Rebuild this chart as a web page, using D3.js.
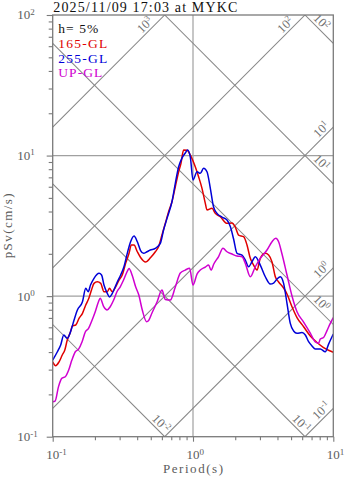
<!DOCTYPE html>
<html><head><meta charset="utf-8">
<script src="https://cdn.jsdelivr.net/npm/d3@7"></script>
<style>body{margin:0;background:#fff}svg{display:block}</style>
</head><body><svg id="c" width="347" height="478"></svg>
<script>
// ---------------- data ----------------
const titleText = "2025/11/09 17:03 at MYKC";
const dampingText = "h= 5%";
const seriesNames = ["165-GL", "255-GL", "UP-GL"];
const seriesColors = ["#e00000", "#0000d8", "#d000d0"];
const xTicks = [0.1, 1, 10];
const yTicks = [0.1, 1, 10, 100];
const accelLevels = [1000, 100, 10, 1, 0.1];   // constant pSa lines (cm/s^2)
const dispLevels = [100, 10, 1, 0.1, 0.01];    // constant Sd lines (cm)

// [period (s), pSv (cm/s)]
const s165 = [[0.1,0.341],[0.105,0.320],[0.111,0.341],[0.117,0.381],[0.122,0.414],[0.127,0.487],[0.134,0.558],[0.138,0.613],[0.146,0.623],[0.154,0.695],[0.163,0.755],[0.172,0.864],[0.181,0.965],[0.189,1.105],[0.197,1.233],[0.208,1.266],[0.220,1.233],[0.232,1.075],[0.245,1.075],[0.254,1.136],[0.266,1.075],[0.281,1.166],[0.297,1.302],[0.313,1.413],[0.331,1.711],[0.350,2.016],[0.363,2.310],[0.380,2.310],[0.401,2.069],[0.423,1.882],[0.459,1.748],[0.499,1.882],[0.539,2.069],[0.568,2.246],[0.601,2.720],[0.635,3.296],[0.670,3.985],[0.708,4.694],[0.748,6.001],[0.790,7.673],[0.821,8.806],[0.857,10.95],[0.906,10.90],[0.957,10.09],[1.038,8.328],[1.096,7.070],[1.159,5.847],[1.224,4.573],[1.258,4.099],[1.366,4.214],[1.442,3.882],[1.565,3.672],[1.747,3.296],[1.897,3.312],[2.002,3.101],[2.114,2.720],[2.295,2.646],[2.426,2.310],[2.561,1.857],[2.704,1.664],[2.859,1.533],[3.017,1.857],[3.276,2.016],[3.459,1.960],[3.657,1.748],[3.860,1.374],[4.076,1.260],[4.424,1.142],[4.677,1.035],[5.077,0.841],[5.511,0.704],[6.143,0.606],[6.856,0.520],[7.651,0.468],[8.527,0.431],[10,0.399]];
const s255 = [[0.1,0.351],[0.108,0.402],[0.114,0.449],[0.120,0.529],[0.127,0.501],[0.134,0.558],[0.142,0.676],[0.150,0.796],[0.163,0.912],[0.172,1.136],[0.179,1.075],[0.186,1.199],[0.197,1.339],[0.214,1.453],[0.223,1.413],[0.232,1.199],[0.245,1.047],[0.254,0.987],[0.266,1.047],[0.289,1.266],[0.305,1.413],[0.322,1.618],[0.340,2.016],[0.359,2.438],[0.380,2.677],[0.401,2.438],[0.423,2.110],[0.444,2.016],[0.470,2.069],[0.496,2.128],[0.539,2.188],[0.585,2.375],[0.617,2.953],[0.653,3.576],[0.708,4.694],[0.748,6.345],[0.790,8.328],[0.835,9.601],[0.881,10.42],[0.915,10.95],[0.957,9.762],[1.0,6.698],[1.068,7.673],[1.127,7.475],[1.190,8.112],[1.258,7.673],[1.328,5.876],[1.402,4.305],[1.483,3.882],[1.609,3.654],[1.747,3.478],[1.845,3.127],[1.947,2.548],[2.059,2.016],[2.235,1.960],[2.360,1.806],[2.490,1.618],[2.634,1.757],[2.780,1.907],[3.017,1.664],[3.276,1.374],[3.556,1.219],[3.755,1.239],[3.970,1.323],[4.190,1.374],[4.424,1.233],[4.677,0.889],[4.937,0.640],[5.213,0.565],[5.511,0.544],[5.983,0.551],[6.316,0.529],[6.667,0.474],[7.050,0.442],[7.442,0.420],[8.077,0.420],[8.768,0.402],[9.259,0.456],[10,0.538]];
const sUP = [[0.1,0.177],[0.104,0.179],[0.110,0.227],[0.116,0.260],[0.123,0.267],[0.130,0.298],[0.137,0.351],[0.145,0.402],[0.153,0.420],[0.162,0.474],[0.171,0.558],[0.180,0.590],[0.191,0.676],[0.201,0.774],[0.212,0.912],[0.218,0.965],[0.231,0.841],[0.244,0.796],[0.257,0.841],[0.272,0.938],[0.287,1.075],[0.303,1.166],[0.320,1.302],[0.342,1.521],[0.350,1.572],[0.369,1.401],[0.390,1.166],[0.411,1.018],[0.435,0.796],[0.467,0.658],[0.483,0.671],[0.510,0.758],[0.554,0.908],[0.601,1.105],[0.635,0.946],[0.689,0.938],[0.748,1.161],[0.812,1.460],[0.881,1.533],[0.946,1.577],[1.0,1.199],[1.068,1.436],[1.127,1.533],[1.224,1.611],[1.292,1.664],[1.344,1.533],[1.407,1.692],[1.522,1.913],[1.636,2.188],[1.747,2.069],[1.897,1.993],[2.059,1.929],[2.235,1.907],[2.360,1.711],[2.561,1.374],[2.780,1.618],[3.017,1.857],[3.368,2.128],[3.657,2.438],[3.892,2.577],[4.076,2.438],[4.309,1.993],[4.677,1.413],[5.077,1.002],[5.511,0.774],[6.143,0.654],[6.856,0.546],[7.442,0.472],[7.855,0.462],[8.077,0.495],[8.527,0.508],[9.018,0.569],[9.520,0.640],[10,0.704]];
const seriesData = [s165, s255, sUP];

// ---------------- drawing ----------------
const svg = d3.select("#c");
const L = 52.7, R = 333.3, T = 15, B = 436.7;
const x = d3.scaleLog().domain([0.1, 10]).range([L, R]);
const y = d3.scaleLog().domain([0.1, 100]).range([B, T]);
const FONT = "'Liberation Serif','Times New Roman',serif";
const GRAY = "#5c5c5c";

svg.append("defs").append("clipPath").attr("id","clip")
  .append("rect").attr("x",L).attr("y",T).attr("width",R-L).attr("height",B-T);

// grid lines
const grid = svg.append("g").attr("stroke","#a0a0a0").attr("stroke-width",1.2);
grid.append("line").attr("x1",x(1)).attr("x2",x(1)).attr("y1",T).attr("y2",B);
[1,10].forEach(v => grid.append("line").attr("x1",L).attr("x2",R).attr("y1",y(v)).attr("y2",y(v)));

// tripartite diagonal lines
const twoPi = 2*Math.PI;
const diag = svg.append("g").attr("clip-path","url(#clip)");
const diagLabels = svg.append("g").attr("fill","#707070").style("font-family",FONT);
const s2 = Math.SQRT1_2;
function expOf(v){ return String(Math.round(Math.log10(v))); }
function addPow(sel, exp, mainSize, supSize){
  sel.append("tspan").text("10").style("font-size",mainSize+"px");
  sel.append("tspan").text(exp).style("font-size",supSize+"px").attr("dy",-4.5);
}
function drawDiag(t0, t1, f, ascending, level){
  const p0 = [x(t0), y(f(t0))], p1 = [x(t1), y(f(t1))];
  diag.append("line").attr("x1",p0[0]).attr("y1",p0[1]).attr("x2",p1[0]).attr("y2",p1[1])
      .attr("stroke","#858585").attr("stroke-width",1.05);
  const dir = ascending ? [s2,-s2] : [s2,s2];
  const nrm = ascending ? [-s2,-s2] : [s2,-s2];
  const onRight = Math.abs(p1[0]-R) < 0.5;
  let along;
  if (ascending) along = onRight ? 10 : 21; else along = onRight ? 23.5 : 12;
  const cx = p1[0] - along*dir[0] + 6.8*nrm[0];
  const cy = p1[1] - along*dir[1] + 6.8*nrm[1];
  const t = diagLabels.append("text")
     .attr("transform",`translate(${cx},${cy}) rotate(${ascending?-45:45})`)
     .attr("text-anchor","middle").attr("y",4);
  addPow(t, expOf(level), 12.5, 8.5);
}
accelLevels.forEach(a => {
  const f = t => a*t/twoPi;
  const t0 = Math.max(0.1, 0.1*twoPi/a), t1 = Math.min(10, 100*twoPi/a);
  if (t0 < t1) drawDiag(t0, t1, f, true, a);
});
dispLevels.forEach(d => {
  const f = t => twoPi*d/t;
  const t0 = Math.max(0.1, twoPi*d/100), t1 = Math.min(10, twoPi*d/0.1);
  if (t0 < t1) drawDiag(t0, t1, f, false, d);
});

// series curves
const line = d3.line().x(d => x(d[0])).y(d => y(d[1])).curve(d3.curveMonotoneX);
const curves = svg.append("g").attr("clip-path","url(#clip)");
seriesData.forEach((s,i) => {
  curves.append("path").datum(s).attr("d",line).attr("fill","none")
    .attr("stroke",seriesColors[i]).attr("stroke-width",1.5).attr("stroke-linejoin","round");
});

// frame
svg.append("rect").attr("x",L).attr("y",T).attr("width",R-L).attr("height",B-T)
  .attr("fill","none").attr("stroke","#7a7a7a").attr("stroke-width",1.3);

// axes ticks
function minorTicks(dom){
  const out=[]; for (let d=dom[0]; d<dom[1]*0.999; d*=10) for (let k=2;k<=9;k++) out.push(d*k);
  return out;
}
function styleAxis(g){ g.select(".domain").remove(); g.selectAll("line").attr("stroke","#7a7a7a").attr("stroke-width",1.1); g.selectAll("text").remove(); }
svg.append("g").attr("transform",`translate(${L},0)`).call(d3.axisLeft(y).tickValues(yTicks).tickSize(6)).call(styleAxis);
svg.append("g").attr("transform",`translate(${L},0)`).call(d3.axisLeft(y).tickValues(minorTicks([0.1,100])).tickSize(4)).call(styleAxis);
svg.append("g").attr("transform",`translate(0,${B})`).call(d3.axisBottom(x).tickValues(xTicks).tickSize(5)).call(styleAxis);
svg.append("g").attr("transform",`translate(0,${B})`).call(d3.axisBottom(x).tickValues(minorTicks([0.1,10])).tickSize(3.5)).call(styleAxis);

// tick labels
const tl = svg.append("g").attr("fill",GRAY).style("font-family",FONT);
yTicks.forEach(v => {
  const t = tl.append("text").attr("x",17.3).attr("y",y(v)+4.4);
  addPow(t, expOf(v), 13, 9);
});
xTicks.forEach(v => {
  const t = tl.append("text").attr("x",x(v)-6.5).attr("y",459.3);
  addPow(t, expOf(v), 13, 9);
});

// axis titles
svg.append("text").attr("x",x(1)).attr("y",473.2).attr("text-anchor","middle")
  .attr("fill",GRAY).style("font-family",FONT).style("font-size","13px")
  .attr("textLength",60).attr("lengthAdjust","spacing").text("Period(s)");
svg.append("text").attr("transform",`translate(11.6,${(T+B)/2}) rotate(-90)`).attr("text-anchor","middle")
  .attr("fill",GRAY).style("font-family",FONT).style("font-size","13px")
  .attr("textLength",65).attr("lengthAdjust","spacing").text("pSv(cm/s)");

// title
svg.append("text").attr("x",53.3).attr("y",11.6).attr("fill","#111")
  .style("font-family",FONT).style("font-size","14px")
  .attr("textLength",184).attr("lengthAdjust","spacing").text(titleText);

// legend
const leg = svg.append("g").style("font-family",FONT).style("font-size","13.5px");
leg.append("text").attr("x",58.3).attr("y",33.3).attr("fill","#111")
  .attr("textLength",40).attr("lengthAdjust","spacing").text(dampingText);
const legW = [49, 49, 44];
seriesNames.forEach((n,i) => {
  leg.append("text").attr("x",58.3).attr("y",47.9 + i*14.7).attr("fill",seriesColors[i])
    .attr("textLength",legW[i]).attr("lengthAdjust","spacing").text(n);
});
</script></body></html>
